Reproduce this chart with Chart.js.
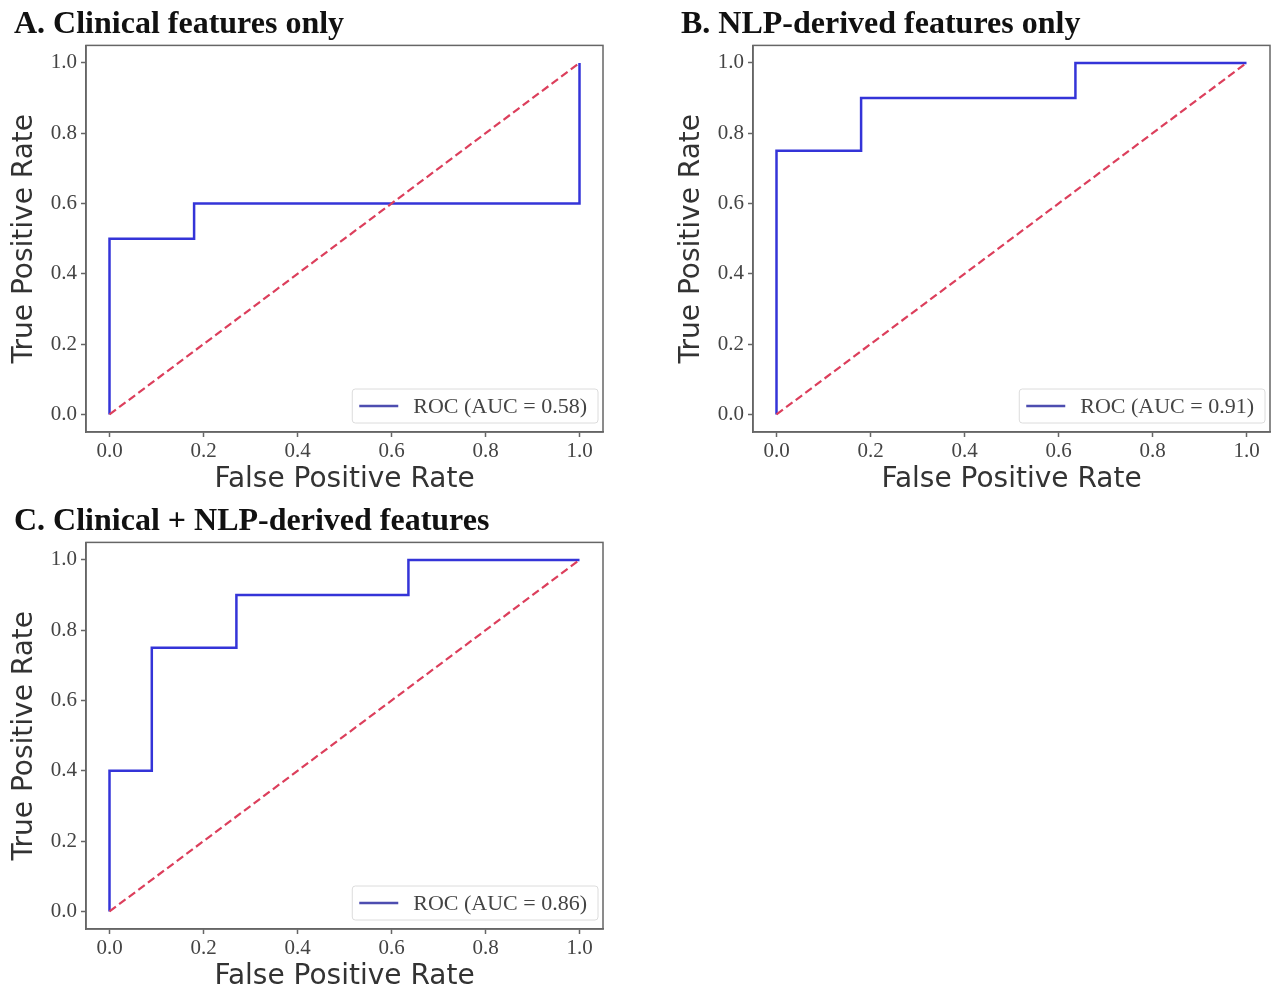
<!DOCTYPE html>
<html>
<head>
<meta charset="utf-8">
<script src="https://cdn.jsdelivr.net/npm/chart.js@4.4.1/dist/chart.umd.min.js"></script>
<style>
  html, body { margin: 0; padding: 0; background: #fff; }
  body { width: 1272px; height: 988px; position: relative; overflow: hidden; }
  .panel { position: absolute; width: 636px; height: 491px; }
</style>
</head>
<body>
<div class="panel" style="left:0;top:0"><canvas id="rocA"></canvas></div>
<div class="panel" style="left:636px;top:0"><canvas id="rocB"></canvas></div>
<div class="panel" style="left:0;top:497px"><canvas id="rocC"></canvas></div>

<script>
// tick positions on both axes
const xTicks = [0, 0.2, 0.4, 0.6, 0.8, 1.0];
const yTicks = [0, 0.2, 0.4, 0.6, 0.8, 1.0];

// chance diagonal
const chanceX = [0, 1];
const chanceY = [0, 1];

// A. clinical features only
const fprA = [0, 0, 0.18, 0.18, 1.0, 1.0];
const tprA = [0, 0.5, 0.5, 0.6, 0.6, 1.0];
const aucA = 0.58;

// B. NLP-derived features only
const fprB = [0, 0, 0.18, 0.18, 0.636, 0.636, 1.0];
const tprB = [0, 0.75, 0.75, 0.9, 0.9, 1.0, 1.0];
const aucB = 0.91;

// C. clinical + NLP-derived
const fprC = [0, 0, 0.09, 0.09, 0.27, 0.27, 0.636, 0.636, 1.0];
const tprC = [0, 0.4, 0.4, 0.75, 0.75, 0.9, 0.9, 1.0, 1.0];
const aucC = 0.86;

const rocColor = "#3434d8";
const chanceColor = "#dc3f5c";
const frameColor = "#666";
const tickColor = "#444";

function toPoints(xs, ys) {
  return xs.map((x, i) => ({ x: x, y: ys[i] }));
}

// full box around the plot area, like matplotlib spines
const framePlugin = {
  id: "frame",
  afterDraw(chart) {
    const a = chart.chartArea, ctx = chart.ctx;
    ctx.save();
    ctx.strokeStyle = frameColor;
    ctx.lineWidth = 1.5;
    ctx.strokeRect(a.left, a.top, a.right - a.left, a.bottom - a.top);
    ctx.restore();
  }
};

// legend box in the lower right corner of the plot area
const cornerLegend = {
  id: "cornerLegend",
  afterDraw(chart) {
    const a = chart.chartArea, ctx = chart.ctx;
    const ds = chart.data.datasets[0];
    ctx.save();
    ctx.font = "22px 'Liberation Serif'";
    const tw = ctx.measureText(ds.label).width;
    const w = 7 + 39 + 15 + tw + 11, h = 34;
    const x = a.right - 5 - w, y = a.bottom - 9 - h;
    ctx.fillStyle = "rgba(255,255,255,0.85)";
    ctx.strokeStyle = "#dcdcdc";
    ctx.lineWidth = 1;
    ctx.beginPath();
    ctx.roundRect(x, y, w, h, 3);
    ctx.fill();
    ctx.stroke();
    ctx.strokeStyle = "#4d4db0";
    ctx.lineWidth = 2.5;
    ctx.beginPath();
    ctx.moveTo(x + 7, y + h / 2);
    ctx.lineTo(x + 46, y + h / 2);
    ctx.stroke();
    ctx.fillStyle = tickColor;
    ctx.textBaseline = "middle";
    ctx.fillText(ds.label, x + 61, y + h / 2 + 1);
    ctx.restore();
  }
};

function makePanel(id, title, padLeft, padRight, fpr, tpr, auc) {
  new Chart(document.getElementById(id), {
    type: "line",
    data: {
      datasets: [
        {
          label: "ROC (AUC = " + auc.toFixed(2) + ")",
          data: toPoints(fpr, tpr),
          borderColor: rocColor,
          borderWidth: 2.5,
          pointRadius: 0,
          tension: 0,
          order: 2
        },
        {
          label: "chance",
          data: toPoints(chanceX, chanceY),
          borderColor: chanceColor,
          borderWidth: 2.2,
          borderDash: [8, 4],
          pointRadius: 0,
          tension: 0,
          order: 1
        }
      ]
    },
    options: {
      responsive: true,
      maintainAspectRatio: false,
      animation: false,
      devicePixelRatio: 1,
      layout: { padding: { left: padLeft, right: padRight, top: 0, bottom: 0 } },
      plugins: {
        legend: { display: false },
        tooltip: { enabled: false },
        title: {
          display: true,
          text: title,
          align: "start",
          color: "#111",
          font: { family: "'Liberation Serif'", size: 32, weight: "bold" },
          padding: { top: 6, bottom: 1 }
        }
      },
      scales: {
        x: {
          type: "linear",
          min: -0.05,
          max: 1.05,
          afterBuildTicks: s => { s.ticks = xTicks.map(v => ({ value: v })); },
          afterFit: s => { s.height = 59; },
          ticks: {
            color: tickColor,
            font: { family: "'Liberation Serif'", size: 21 },
            padding: 2,
            maxRotation: 0,
            autoSkip: false,
            callback: v => v.toFixed(1)
          },
          grid: { drawOnChartArea: false, drawTicks: true, tickLength: 5, tickColor: frameColor, tickWidth: 1.5 },
          border: { display: true, color: frameColor, width: 1.5 },
          title: {
            display: true,
            text: "False Positive Rate",
            color: "#333",
            font: { family: "'DejaVu Sans'", size: 28, lineHeight: 0.8 },
            padding: { top: 0, bottom: 0 }
          }
        },
        y: {
          type: "linear",
          min: -0.05,
          max: 1.05,
          afterBuildTicks: s => { s.ticks = yTicks.map(v => ({ value: v })); },
          afterFit: s => { s.width = 72; },
          ticks: {
            color: tickColor,
            font: { family: "'Liberation Serif'", size: 21 },
            padding: 4,
            autoSkip: false,
            callback: v => v.toFixed(1)
          },
          grid: { drawOnChartArea: false, drawTicks: true, tickLength: 5, tickColor: frameColor, tickWidth: 1.5 },
          border: { display: true, color: frameColor, width: 1.5 },
          title: {
            display: true,
            text: "True Positive Rate",
            color: "#333",
            font: { family: "'DejaVu Sans'", size: 28, lineHeight: 0.8 },
            padding: { top: 0, bottom: 0 }
          }
        }
      }
    },
    plugins: [framePlugin, cornerLegend]
  });
}

makePanel("rocA", "A. Clinical features only", 14, 33, fprA, tprA, aucA);
makePanel("rocB", "B. NLP-derived features only", 45, 2, fprB, tprB, aucB);
makePanel("rocC", "C. Clinical + NLP-derived features", 14, 33, fprC, tprC, aucC);
</script>
</body>
</html>
